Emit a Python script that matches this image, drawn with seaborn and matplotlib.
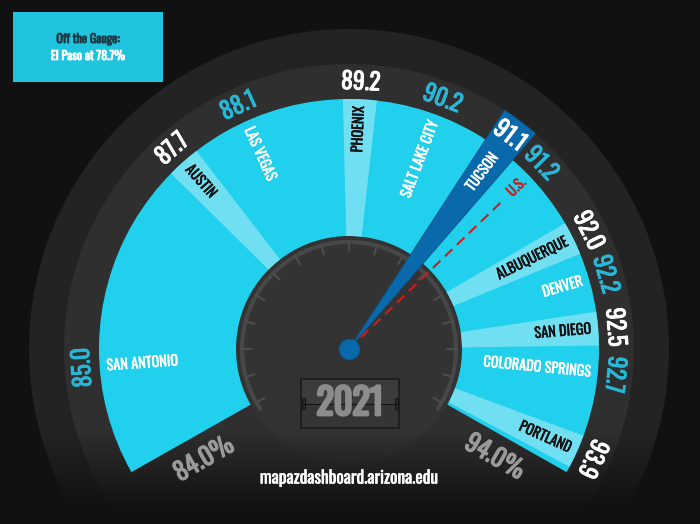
import numpy as np
import matplotlib
matplotlib.use("Agg")
import matplotlib.pyplot as plt
import matplotlib.patheffects as pe
from matplotlib.colors import to_rgb
from matplotlib.patches import Rectangle
import seaborn as sns

# data
cities = ["San Antonio", "Austin", "Las Vegas", "Phoenix", "Salt Lake City",
          "Tucson", "U.S.", "Albuquerque", "Denver", "San Diego",
          "Colorado Springs", "Portland"]
values = [85.0, 87.7, 88.1, 89.2, 90.2, 91.1, 91.2, 92.0, 92.2, 92.5, 92.7, 93.9]
gauge_range = [84.0, 94.0]
off_gauge_city = "El Paso"
off_gauge_value = 78.7
year = 2021
highlight = "Tucson"
benchmark = "U.S."

# the dial is spread out by hand, value -> angle goes through these stops
dial_stops = [gauge_range[0]] + values + [gauge_range[1]]
dial_deg = [209.5, 184, 131.5, 114.5, 87.5, 69.5, 53, 44, 26.3, 16.2, 4.7, -5.5, -24.2, -29.5]


def dial(v):
    return np.radians(np.interp(v, dial_stops, dial_deg))


def heavy(color, w=0.5):
    # Oswald only comes in one weight here, so thicken it with a stroke
    return [pe.withStroke(linewidth=w, foreground=color)]


BG = "#111111"
OUTER = "#232323"
RING = "#2f2f2f"
DIAL = "#333333"
CYAN = "#21d0ec"
PALE = "#6fdff1"
BLUE = "#0a69aa"
VAL_CYAN = "#2ab6d6"
RED = "#d01c1c"

sns.set_theme(style="dark", rc={"figure.facecolor": BG, "axes.facecolor": BG})
plt.rcParams["font.family"] = ["Oswald", "Roboto Condensed", "Archivo Narrow", "DejaVu Sans"]

W, H = 700, 524
cx, cy, R = 349, 349, 340
fig = plt.figure(figsize=(W / 100, H / 100), dpi=100, facecolor=BG)
box = [(cx - R) / W, (H - cy - R) / H, 2 * R / W, 2 * R / H]


def polar_axes(z):
    a = fig.add_axes(box, projection="polar", zorder=z)
    a.set_axis_off()
    return a


# body of the gauge
ax_under = polar_axes(0)
ax_under.bar(0, 320, width=2 * np.pi, color=OUTER, linewidth=0)
ax_under.bar(0, 285, width=2 * np.pi, color=RING, linewidth=0)
ax_under.bar(0, 113, width=2 * np.pi, color=DIAL, linewidth=0)
rim = np.radians(np.linspace(214, -34, 200))
ax_under.plot(rim, np.full_like(rim, 107), color="#474747", lw=3)
for a in np.arange(210, -31, -15):
    ax_under.plot([np.radians(a)] * 2, [98, 107], color="#4c4c4c", lw=1.6)
ax_under.set_ylim(0, R)

# fade the bottom into the background
ax_fade = fig.add_axes([0, 0, 1, 1], zorder=0.5)
ax_fade.set_axis_off()
yy = np.arange(H) + 0.5
fade = np.zeros((H, 1, 4))
fade[:, 0, :3] = to_rgb(BG)
fade[:, 0, 3] = np.clip((yy - 430) / 80, 0, 1)
ax_fade.imshow(fade, extent=[0, W, H, 0], aspect="auto")
ax_fade.set_xlim(0, W)
ax_fade.set_ylim(H, 0)

# bands, needle and labels
ax = polar_axes(1)
lo, hi = dial(gauge_range[0]), dial(gauge_range[1])
ax.bar((lo + hi) / 2, 250 - 113, width=lo - hi, bottom=113, color=CYAN, linewidth=0)

for i, (city, v) in enumerate(zip(cities, values)):
    th = dial(v)
    deg = np.degrees(th)
    pale = i % 2 == 1
    if city == highlight:
        ax.bar(th, 285, width=np.radians(7.8), bottom=0, color=BLUE,
               edgecolor="#0b5488", linewidth=0.6, zorder=3)
        name_col = "white"
    elif city == benchmark:
        sns.lineplot(x=[th, th], y=[0, 215], ax=ax, color=RED, lw=1.5,
                     linestyle=(0, (5, 3)), estimator=None, sort=False,
                     legend=False, zorder=4)
        name_col = RED
    elif pale:
        ax.bar(th, 250 - 113, width=np.radians(7.8), bottom=113, color=PALE,
               linewidth=0, zorder=2)
        name_col = "#111111"
    else:
        name_col = "white"

    # value on the outer ring, along the arc
    val_col = "white" if pale else VAL_CYAN
    ax.text(th, 267, f"{v:.1f}", rotation=deg - 90, rotation_mode="anchor",
            ha="center", va="center", fontsize=17, color=val_col,
            path_effects=heavy(val_col, 0.6), zorder=6)
    # city name along the radius
    if deg <= 90:
        rot, ha = deg, "right"
    else:
        rot, ha = deg - 180, "left"
    ax.text(th, 243, city.upper(), rotation=rot, rotation_mode="anchor",
            ha=ha, va="center", fontsize=10.3, color=name_col,
            path_effects=heavy(name_col, 0.3), zorder=6)

ax.scatter(0, 0, s=210, color=BLUE, edgecolor="#0a5c94", linewidth=0.8, zorder=7)
ax.set_ylim(0, R)

# flat overlay for the remaining text
ax_txt = fig.add_axes([0, 0, 1, 1], zorder=3)
ax_txt.set_axis_off()
ax_txt.set_xlim(0, W)
ax_txt.set_ylim(H, 0)

GREY = "#9a9a9a"
ax_txt.text(204, 459, f"{gauge_range[0]:.1f}%", rotation=30, ha="center",
            va="center", fontsize=18, color=GREY, path_effects=heavy(GREY, 0.8))
ax_txt.text(495, 457, f"{gauge_range[1]:.1f}%", rotation=-30, ha="center",
            va="center", fontsize=18, color=GREY, path_effects=heavy(GREY, 0.8))
ax_txt.text(349, 478, "mapazdashboard.arizona.edu", ha="center", va="center",
            fontsize=12.5, color="white", path_effects=heavy("white", 0.4))

# off-gauge note
ax_txt.add_patch(Rectangle((13, 12), 150, 70, color="#1fc4de", lw=0))
ax_txt.text(88, 39, "Off the Gauge:", ha="center", va="center", fontsize=8.8,
            color="#1d3e48", path_effects=heavy("#1d3e48", 0.6))
ax_txt.text(88, 56, f"{off_gauge_city} at {off_gauge_value}%", ha="center",
            va="center", fontsize=8.8, color="white",
            path_effects=heavy("white", 0.6))

# year flip panel
ax_txt.add_patch(Rectangle((301, 379), 98, 25, facecolor="#3c3c3c", lw=0))
ax_txt.add_patch(Rectangle((301, 404), 98, 24, facecolor="#353535", lw=0))
ax_txt.add_patch(Rectangle((301, 379), 98, 49, facecolor="none",
                           edgecolor="#1c1c1c", lw=1.2))
ax_txt.text(350, 404, str(year), ha="center", va="center", fontsize=26,
            color="#8c8c8c", path_effects=heavy("#8c8c8c", 2.0))
ax_txt.plot([303, 397], [404, 404], color="#151515", lw=0.8)
for hx in (302, 395):
    ax_txt.add_patch(Rectangle((hx, 398), 3, 11, facecolor="#2a2a2a",
                               edgecolor="#111111", lw=0.6))

fig.savefig("out.png", dpi=100, facecolor=BG)
